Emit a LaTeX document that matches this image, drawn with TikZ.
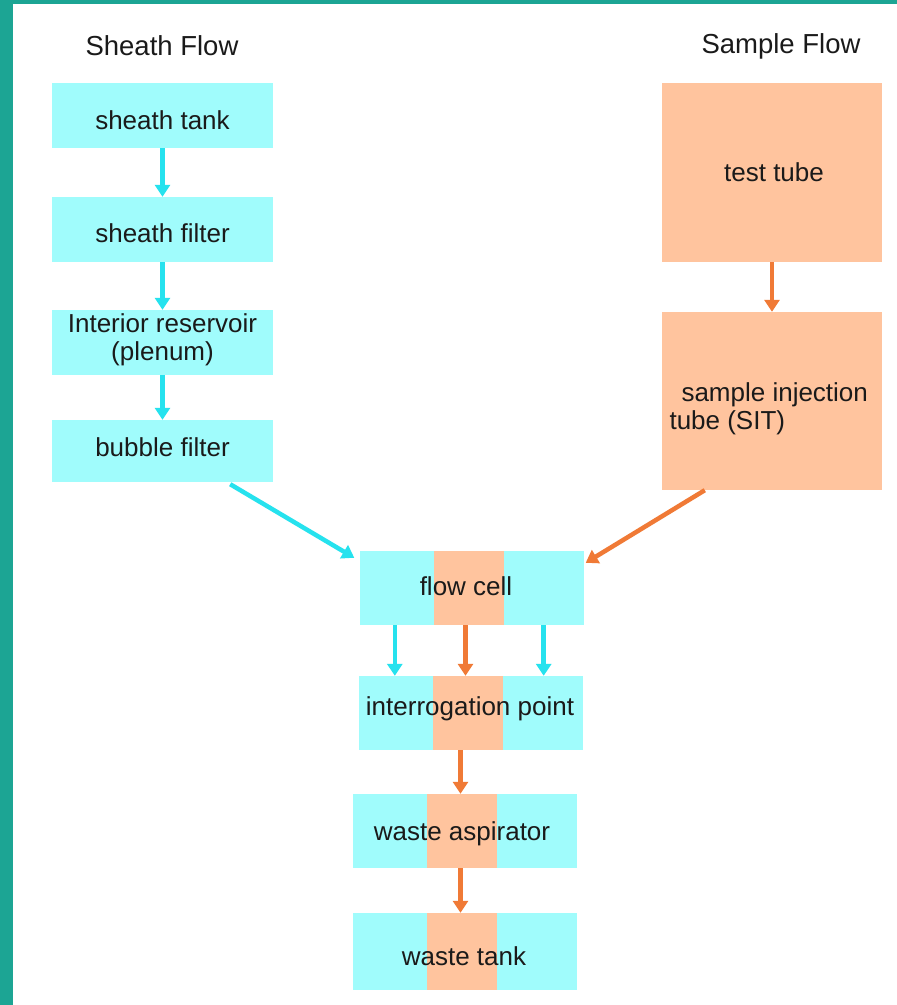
\documentclass[tikz,border=0pt]{standalone}
\usepackage{fontspec}
\setmainfont{Liberation Sans}
\usetikzlibrary{arrows.meta,calc}
\definecolor{cyanbox}{HTML}{A0FCFC}
\definecolor{peach}{HTML}{FFC49E}
\definecolor{cyanarrow}{HTML}{26E2EE}
\definecolor{orangearrow}{HTML}{F07A36}
\definecolor{teal}{HTML}{1CA594}
\definecolor{ink}{HTML}{1A1A1A}
\tikzset{
  x=1pt, y=-1pt,
  boxtext/.style={font=\fontsize{26}{28}\selectfont, text=ink},
  cbox/.style={fill=cyanbox, draw=none, boxtext, inner sep=0pt, minimum width=221pt, minimum height=65pt},
  obox/.style={fill=peach, draw=none, boxtext, inner sep=0pt, minimum width=220pt},
  splitbox/.style={fill=cyanbox, draw=none, boxtext, inner sep=0pt, minimum width=224pt, minimum height=74pt,
    path picture={\fill[peach] ($(path picture bounding box.north)+(-38pt,0)$) rectangle ($(path picture bounding box.south)+(32pt,0)$);}},
  titletext/.style={font=\fontsize{27.5}{29}\selectfont, text=ink},
  carrow/.style={draw=cyanarrow, line width=4.5pt, -{Triangle[length=12pt,width=15pt]}},
  oarrow/.style={draw=orangearrow, line width=4.5pt, -{Triangle[length=12pt,width=15pt]}},
}
\begin{document}
\begin{tikzpicture}
\useasboundingbox (0,0) rectangle (897,1005);
\fill[white] (0,0) rectangle (897,1005);
\fill[teal] (0,0) rectangle (13,1005);
\fill[teal] (0,0) rectangle (897,4);

% titles
\node[titletext] (sheathtitle) at (162,46) {Sheath Flow};
\node[titletext] (sampletitle) at (781,46) {Sample Flow};

% sheath column
\node[cbox] (tank) at (162.5,115.5) {};
\node[boxtext] (tanklbl) at (162.5,120) {sheath tank};
\node[cbox] (filter) at (162.5,229.5) {};
\node[boxtext] (filterlbl) at (162.5,233) {sheath filter};
\node[cbox] (plenum) at (162.5,342.5) {};
\node[boxtext, align=center] (plenumlbl) at (162.5,340) {Interior reservoir\\(plenum)};
\node[cbox, minimum height=62pt] (bubble) at (162.5,451) {};
\node[boxtext] (bubblelbl) at (162.5,447) {bubble filter};

% sample column
\node[obox, minimum height=179pt] (tube) at (772,172.5) {};
\node[boxtext] (tubelbl) at (774,172) {test tube};
\node[obox, minimum height=178pt] (sit) at (772,401) {};
\node[boxtext, align=left, anchor=west] (sitlbl) at (666,409) {\hspace*{12pt}sample injection\\tube (SIT)};

% center column
\node[splitbox] (flowcell) at (471.5,588) {};
\node[boxtext] (flowcelllbl) at (466,586) {flow cell};
\node[splitbox] (interr) at (470.5,713) {};
\node[boxtext] (interrlbl) at (470,709) {interrogation point};
\node[splitbox] (aspirator) at (464.5,831) {};
\node[boxtext] (aspiratorlbl) at (462,834) {waste aspirator};
\node[splitbox, minimum height=77pt] (wastetank) at (464.5,951.5) {};
\node[boxtext] (wastetanklbl) at (464,956) {waste tank};

% arrows sheath
\draw[carrow] (tank.south) -- (filter.north);
\draw[carrow] (filter.south) -- (plenum.north);
\draw[carrow] (plenum.south) -- (bubble.north);
% arrow sample
\draw[oarrow] (tube.south) -- (sit.north);
% diagonals
\draw[carrow] ($(bubble.south east)+(-43,2)$) -- ($(flowcell.north west)+(-5,7)$);
\draw[oarrow] ($(sit.south west)+(43,0)$) -- ($(flowcell.north east)+(2,12)$);
% flowcell to interrogation
\coordinate (fa) at ($(flowcell.south west)+(35.5,0)$);
\coordinate (fb) at ($(flowcell.south)+(-6,0)$);
\coordinate (fc) at ($(flowcell.south east)+(-40,0)$);
\draw[carrow] (fa) -- (fa |- interr.north);
\draw[oarrow] (fb) -- (fb |- interr.north);
\draw[carrow] (fc) -- (fc |- interr.north);
% lower chain
\coordinate (ia) at ($(interr.south)+(-10,0)$);
\coordinate (aa) at ($(aspirator.south)+(-4,0)$);
\draw[oarrow] (ia) -- (ia |- aspirator.north);
\draw[oarrow] (aa) -- (aa |- wastetank.north);
\end{tikzpicture}
\end{document}
